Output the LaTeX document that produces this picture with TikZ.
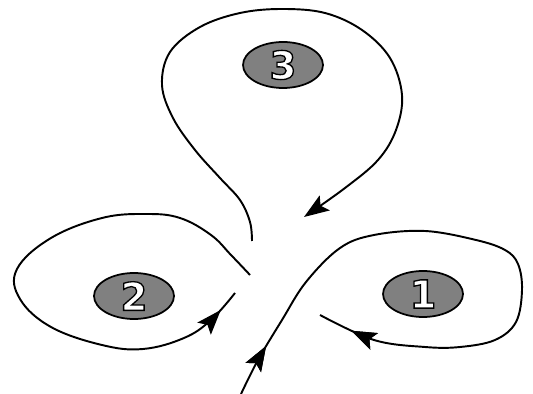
\documentclass[tikz,border=0pt]{standalone}
\usepackage{fontspec}
\setsansfont{DejaVu Sans}[BoldFont={DejaVu Sans Bold}]
\usetikzlibrary{shapes.geometric, arrows.meta, decorations.markings}

\tikzset{
  cell/.style={ellipse, draw, line width=1pt, fill=black!50, minimum width=1.6cm, minimum height=0.92cm, inner sep=0pt},
  flow/.style={line width=1.1pt},
  midarrow/.style={postaction={decorate}, decoration={markings, mark=at position #1 with {\arrow{Stealth[length=0.5cm, width=0.36cm, inset=0.1cm]}}}},
  endarrow/.style={-{Stealth[length=0.5cm, width=0.36cm, inset=0.1cm]}}
}
% white figure with a black outline
\newcommand{\cellnum}[1]{{\sffamily\bfseries\fontsize{22}{22}\selectfont\color{white}\special{pdf:code 2 Tr 0 G 0.75 w}#1\special{pdf:code 0 Tr}}}

\begin{document}
\begin{tikzpicture}[x=0.02cm, y=-0.02cm]
        \useasboundingbox (0,0) rectangle (533,394);

        \node[cell] (c3) at (283,65) {\cellnum{3}};
        \node[cell] (c2) at (134,296) {\cellnum{2}};
        \node[cell] (c1) at (423,294) {\cellnum{1}};

        % loop round 3
        \draw[flow, endarrow] plot[smooth, tension=0.6] coordinates {
            (252,241) (250,222) (240,200) (220,178) (195,150) (173,118)
            (162,85) (170,52) (200,27) (240,13) (282,9) (325,13)
            (362,30) (390,58) (402,95) (396,130) (378,160) (345,188) (304,217)};

        % loop round 2
        \draw[flow, midarrow=0.96] plot[smooth, tension=0.65] coordinates {
            (250,275) (231,255) (211,235) (180,218) (146,214) (102,218)
            (51,238) (17,269) (20,299) (51,327) (102,345) (143,349)
            (184,338) (211,320) (235,293)};

        % incoming line and loop round 1
        \draw[flow, midarrow=0.085, midarrow=0.945] plot[smooth, tension=0.6] coordinates {
            (241,394) (258,360) (282,320) (306,282) (340,248) (374,235)
            (425,231) (476,240) (505,250) (518,264) (522,290) (516,322)
            (495,340) (460,347) (425,347) (374,340) (320,315)};
    \end{tikzpicture}
\end{document}
